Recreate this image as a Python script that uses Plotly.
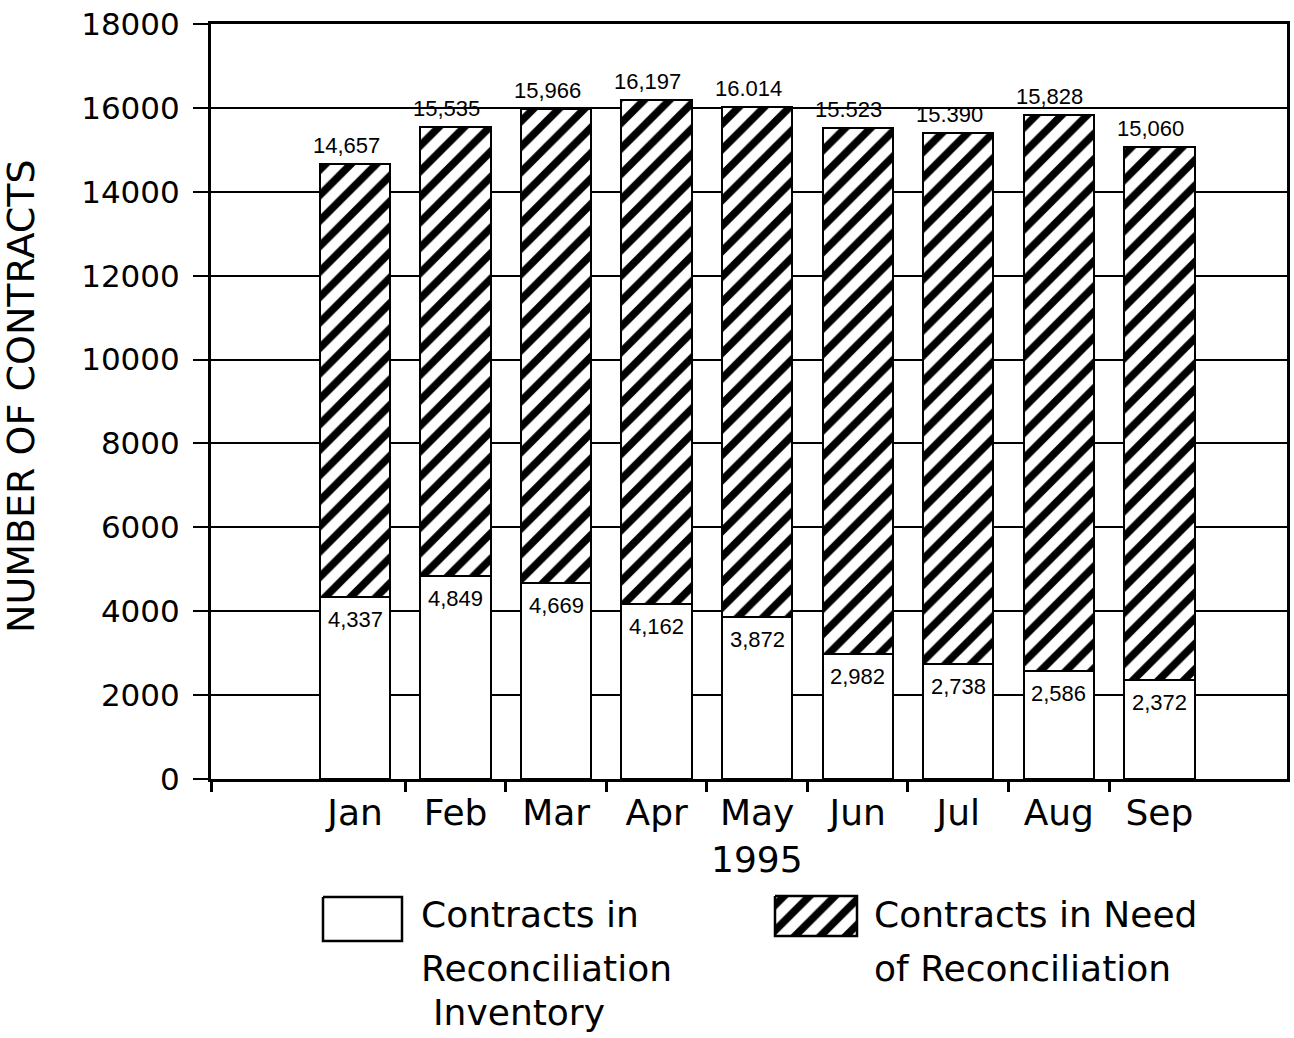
import plotly.graph_objects as go

# ---- data -------------------------------------------------------------
months = ["Jan", "Feb", "Mar", "Apr", "May", "Jun", "Jul", "Aug", "Sep"]
year_label = "1995"
# monthly totals, printed above each bar
total_labels = ["14,657", "15,535", "15,966", "16,197", "16.014",
                "15.523", "15.390", "15,828", "15,060"]
# contracts already in the reconciliation inventory (lower segment)
in_inventory = [4337, 4849, 4669, 4162, 3872, 2982, 2738, 2586, 2372]
y_tick_values = list(range(0, 18001, 2000))

series_names = ["Contracts in Reconciliation Inventory",
                "Contracts in Need of Reconciliation"]
legend_lines = [["Contracts in", "Reconciliation", "Inventory"],
                ["Contracts in Need", "of Reconciliation"]]

totals = [int(s.replace(",", "").replace(".", "")) for s in total_labels]
need_reconciliation = [t - b for t, b in zip(totals, in_inventory)]
pos = list(range(len(months)))

# ---- layout constants ---------------------------------------------------
W, H = 1294, 1038
FONT = "DejaVu Sans"
NUM_FONT = "Liberation Sans"
plot_left, plot_right, plot_top, plot_bottom = 211, 1287, 24, 779
x_range = [-1.433, 9.27]

hatch = dict(shape="/", fgcolor="black", bgcolor="white", fgopacity=1,
             size=18, solidity=0.42)

fig = go.Figure()

fig.add_trace(go.Bar(
    x=pos, y=in_inventory, width=0.7, name=series_names[0],
    marker=dict(color="white", line=dict(color="black", width=2.5)),
    showlegend=False, hoverinfo="skip",
))
fig.add_trace(go.Bar(
    x=pos, y=need_reconciliation, width=0.7, name=series_names[1],
    marker=dict(color="white", pattern=hatch, line=dict(color="black", width=2.5)),
    showlegend=False, hoverinfo="skip",
))

# boundary ticks between month slots (plus the spine crossing)
fig.add_trace(go.Scatter(x=[x_range[0]], y=[0], xaxis="x2", yaxis="y",
                         mode="markers", marker=dict(opacity=0),
                         showlegend=False, hoverinfo="skip"))

# legend swatches drawn in a full-page pixel coordinate system
fig.add_trace(go.Scatter(
    x=[323, 402, 402, 323, 323], y=[897, 897, 941, 941, 897],
    xaxis="x3", yaxis="y3", mode="lines", fill="toself",
    fillcolor="white", line=dict(color="black", width=2.5),
    showlegend=False, hoverinfo="skip",
))
fig.add_trace(go.Scatter(
    x=[775, 857, 857, 775, 775], y=[896, 896, 936, 936, 896],
    xaxis="x3", yaxis="y3", mode="lines", fill="toself",
    fillcolor="white", fillpattern=hatch, line=dict(color="black", width=2.5),
    showlegend=False, hoverinfo="skip",
))

annotations = []
# totals above bars
for i, lab in enumerate(total_labels):
    annotations.append(dict(
        x=pos[i], y=totals[i], xref="x", yref="y", text=lab,
        showarrow=False, yanchor="bottom", xshift=-9, yshift=4,
        font=dict(family=NUM_FONT, size=22, color="black"),
    ))
# inventory counts just inside the top of the white segment
for i, v in enumerate(in_inventory):
    annotations.append(dict(
        x=pos[i], y=v, xref="x", yref="y", text=f"{v:,}",
        showarrow=False, yanchor="top", yshift=-8,
        font=dict(family=NUM_FONT, size=22, color="black"),
    ))
# year under the month labels
annotations.append(dict(
    x=pos[months.index("May")], y=859, xref="x", yref="y3", text=year_label,
    showarrow=False, yanchor="middle",
    font=dict(family=FONT, size=36, color="black"),
))
# y axis title
annotations.append(dict(
    x=21, y=396, xref="x3", yref="y3", text="NUMBER OF CONTRACTS",
    textangle=-90, showarrow=False, xanchor="center", yanchor="middle",
    font=dict(family=FONT, size=38, color="black"),
))
# legend text
legend_text_x = [420, 873]
legend_line_y = [914, 968, 1012]
for k, lines in enumerate(legend_lines):
    for j, line in enumerate(lines):
        annotations.append(dict(
            x=legend_text_x[k] + (12 if (k == 0 and j == 2) else 0),
            y=legend_line_y[j], xref="x3", yref="y3", text=line,
            showarrow=False, xanchor="left", yanchor="middle", borderpad=0,
            font=dict(family=FONT, size=36, color="black"),
        ))

fig.update_layout(
    template="none",
    width=W, height=H,
    margin=dict(l=0, r=0, t=0, b=0, pad=0, autoexpand=False),
    paper_bgcolor="white", plot_bgcolor="rgba(0,0,0,0)",
    barmode="stack", bargap=0,
    font=dict(family=FONT, color="black"),
    annotations=annotations,
    xaxis=dict(
        domain=[plot_left / W, plot_right / W], range=x_range,
        tickvals=pos, ticktext=months, ticks="",
        tickfont=dict(family=FONT, size=36, color="black"),
        ticklabelstandoff=0, automargin=False,
        showgrid=False, zeroline=False,
        showline=True, linecolor="black", linewidth=3, mirror=True,
        anchor="y",
    ),
    xaxis2=dict(
        overlaying="x", range=x_range,
        tickvals=[x_range[0]] + [p + 0.5 for p in pos[:-1]],
        ticks="outside", ticklen=12, tickwidth=2.5, tickcolor="black",
        showticklabels=False, showgrid=False, zeroline=False, showline=False,
        anchor="y", side="bottom", automargin=False,
    ),
    yaxis=dict(
        domain=[1 - plot_bottom / H, 1 - plot_top / H], range=[0, 18000],
        tickvals=y_tick_values, ticktext=[str(v) for v in y_tick_values],
        ticks="outside", ticklen=15, tickwidth=2,
        tickcolor="black", ticklabelstandoff=7, automargin=False,
        tickfont=dict(family=FONT, size=31, color="black"),
        showgrid=True, gridcolor="black", gridwidth=2,
        zeroline=False,
        showline=True, linecolor="black", linewidth=3, mirror=True,
        anchor="x",
    ),
    xaxis3=dict(domain=[0, 1], range=[0, W], visible=False, anchor="y3",
                fixedrange=True, automargin=False),
    yaxis3=dict(domain=[0, 1], range=[H, 0], visible=False, anchor="x3",
                fixedrange=True, automargin=False),
)

fig.write_html("out.html")
